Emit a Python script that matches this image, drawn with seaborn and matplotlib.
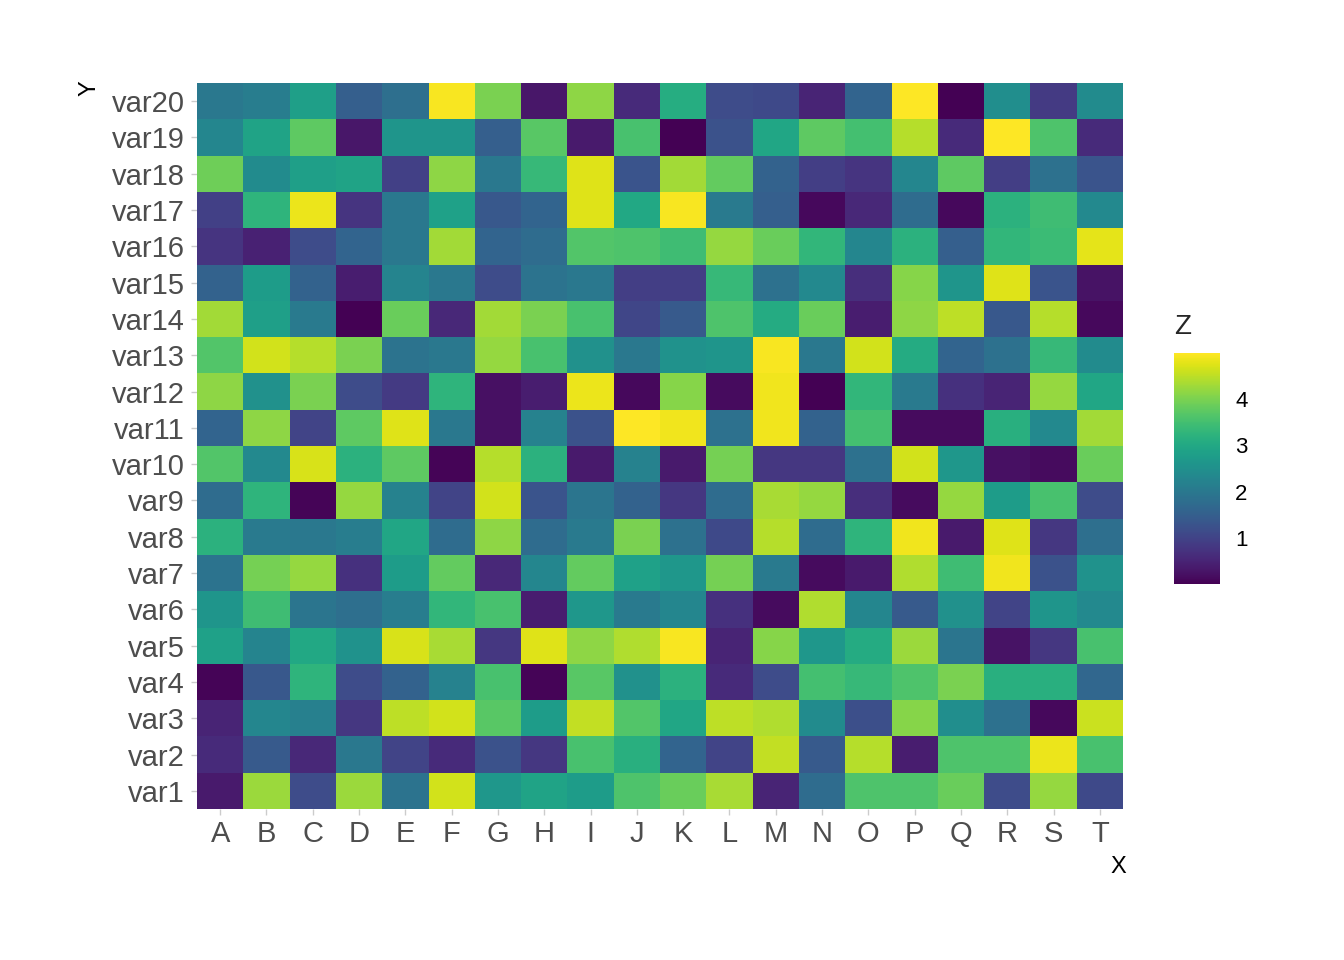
import pandas as pd
import seaborn as sns
import matplotlib.pyplot as plt

# Column and row labels
x_labels = list("ABCDEFGHIJKLMNOPQRST")
y_labels = [f"var{i}" for i in range(20, 0, -1)]  # top to bottom

# Z values read row by row, var20 (top) down to var1 (bottom), columns A..T
z_values = [
    [2.0, 2.1, 2.8, 1.5, 1.8, 4.95, 4.0, 0.3, 4.15, 0.6, 3.1, 1.15, 1.1, 0.5, 1.6, 5.0, 0.0, 2.45, 0.85, 2.4],
    [2.3, 2.9, 3.75, 0.3, 2.6, 2.6, 1.5, 3.7, 0.35, 3.55, 0.0, 1.25, 2.95, 3.75, 3.5, 4.45, 0.6, 5.0, 3.6, 0.6],
    [3.9, 2.4, 2.8, 2.9, 0.95, 4.15, 2.0, 3.35, 4.75, 1.3, 4.3, 3.8, 1.55, 0.9, 0.75, 2.3, 3.75, 0.9, 1.85, 1.3],
    [0.95, 3.25, 4.85, 0.75, 2.0, 2.85, 1.35, 1.6, 4.75, 3.0, 4.95, 2.05, 1.5, 0.1, 0.55, 1.75, 0.1, 3.2, 3.45, 2.35],
    [0.75, 0.45, 1.15, 1.6, 2.0, 4.3, 1.6, 1.75, 3.65, 3.6, 3.45, 4.2, 3.85, 3.3, 2.3, 3.2, 1.5, 3.3, 3.4, 4.8],
    [1.55, 2.75, 1.55, 0.4, 2.25, 2.0, 1.15, 1.9, 2.0, 0.9, 0.9, 3.35, 1.85, 2.35, 0.65, 4.1, 2.6, 4.75, 1.3, 0.25],
    [4.3, 2.8, 2.05, 0.0, 3.85, 0.55, 4.3, 4.0, 3.55, 1.05, 1.4, 3.6, 3.05, 3.85, 0.4, 4.15, 4.5, 1.35, 4.45, 0.1],
    [3.65, 4.65, 4.45, 4.0, 1.9, 2.0, 4.2, 3.55, 2.5, 2.0, 2.55, 2.6, 4.95, 2.0, 4.65, 3.05, 1.6, 1.85, 3.35, 2.4],
    [4.15, 2.5, 4.0, 1.15, 0.85, 3.25, 0.2, 0.4, 4.85, 0.1, 4.1, 0.15, 4.9, 0.0, 3.3, 2.05, 0.7, 0.5, 4.2, 2.95],
    [1.6, 4.15, 1.0, 3.75, 4.75, 2.0, 0.2, 2.2, 1.25, 5.0, 4.9, 1.85, 4.9, 1.55, 3.5, 0.15, 0.15, 3.15, 2.35, 4.3],
    [3.65, 2.35, 4.7, 3.2, 3.75, 0.05, 4.45, 3.2, 0.35, 2.2, 0.35, 3.95, 0.8, 0.8, 1.85, 4.65, 2.65, 0.2, 0.15, 3.85],
    [1.75, 3.25, 0.05, 4.2, 2.2, 1.0, 4.65, 1.3, 1.95, 1.55, 0.8, 1.75, 4.35, 4.2, 0.65, 0.15, 4.2, 2.75, 3.55, 1.15],
    [3.2, 2.05, 2.0, 2.1, 2.95, 1.75, 4.15, 1.75, 2.05, 4.0, 1.85, 1.1, 4.45, 1.75, 3.25, 4.9, 0.35, 4.75, 0.8, 1.8],
    [1.9, 3.95, 4.2, 0.7, 2.75, 3.8, 0.55, 2.3, 3.8, 2.85, 2.65, 3.95, 2.05, 0.15, 0.35, 4.4, 3.45, 4.9, 1.25, 2.55],
    [2.6, 3.45, 1.95, 1.8, 2.1, 3.3, 3.55, 0.4, 2.65, 2.05, 2.3, 0.7, 0.15, 4.4, 2.3, 1.4, 2.5, 1.0, 2.6, 2.35],
    [2.85, 2.25, 3.0, 2.55, 4.7, 4.35, 0.8, 4.75, 4.15, 4.4, 4.95, 0.5, 4.1, 2.65, 3.05, 4.25, 1.95, 0.25, 0.8, 3.55],
    [0.05, 1.35, 3.25, 1.15, 1.55, 2.2, 3.55, 0.05, 3.7, 2.5, 3.2, 0.6, 1.15, 3.5, 3.35, 3.6, 4.0, 3.15, 3.15, 1.65],
    [0.5, 2.3, 2.15, 0.8, 4.5, 4.65, 3.7, 2.75, 4.55, 3.65, 2.95, 4.5, 4.4, 2.4, 1.2, 4.1, 2.45, 1.85, 0.1, 4.6],
    [0.6, 1.4, 0.55, 2.0, 1.0, 0.6, 1.25, 0.8, 3.55, 3.15, 1.6, 1.0, 4.55, 1.4, 4.45, 0.4, 3.6, 3.6, 4.85, 3.55],
    [0.35, 4.25, 1.15, 4.25, 1.9, 4.65, 2.65, 2.9, 2.75, 3.6, 3.85, 4.35, 0.5, 1.75, 3.6, 3.6, 3.85, 1.15, 4.2, 1.1],
]
cbar_ticks = [1, 2, 3, 4]

df = pd.DataFrame(z_values, index=y_labels, columns=x_labels)

sns.set_style("white")
plt.rcParams['font.family'] = ['Liberation Sans', 'DejaVu Sans']

W, H = 1344, 960
fig = plt.figure(figsize=(W / 100, H / 100), dpi=100)
ax = fig.add_axes([197 / W, (H - 809) / H, 926 / W, 726 / H])
cax = fig.add_axes([1174 / W, (H - 584) / H, 46 / W, 231 / H])

sns.heatmap(df, ax=ax, cbar_ax=cax, cmap="viridis", vmin=0, vmax=5,
            linewidths=0, cbar_kws={"ticks": cbar_ticks})

# Axis styling
ax.tick_params(axis='both', length=4, width=1, color='#cccccc',
               labelsize=21, labelcolor='#4d4d4d')
ax.tick_params(axis='x', bottom=True, labelrotation=0, pad=4)
ax.tick_params(axis='y', left=True, labelrotation=0, pad=5)
for lbl in ax.get_yticklabels():
    lbl.set_verticalalignment('center_baseline')
ax.set_xlabel("")
ax.set_ylabel("")
for s in ax.spines.values():
    s.set_visible(False)

# Axis titles
fig.text(1126 / W, 1 - 867 / H, "X", ha='right', va='center', fontsize=17, color='black')
fig.text(89 / W, 1 - 80 / H, "Y", ha='center', va='top', rotation=90, fontsize=17, color='black')

# Colorbar styling
cbar = ax.collections[0].colorbar
cbar.outline.set_visible(False)
cax.tick_params(axis='y', left=True, right=True, direction='in', length=8, width=1,
                color='white', labelsize=16, labelcolor='black', pad=11)
cax.set_title("Z", loc='left', fontsize=20, pad=14)

plt.savefig("out.png", dpi=100)
plt.close()
